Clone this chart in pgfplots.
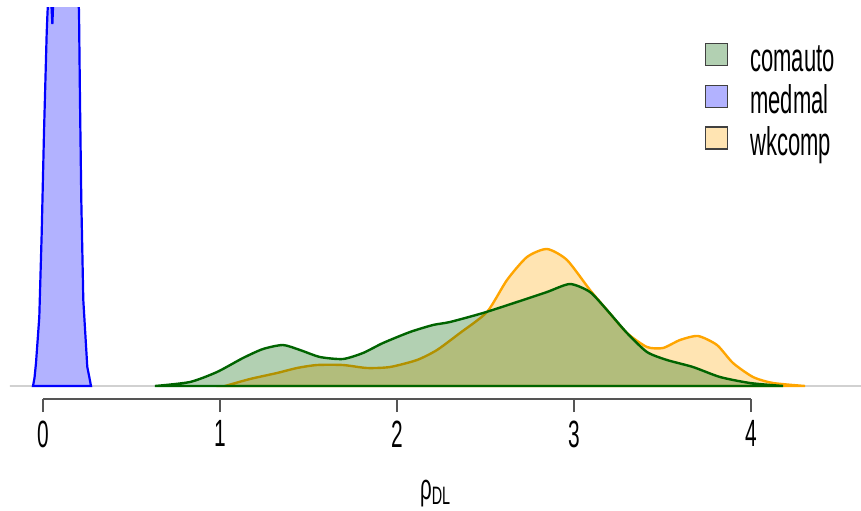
\documentclass[border=0pt]{standalone}
\usepackage{pgfplots}
\pgfplotsset{compat=1.18}
\usepackage{fontspec}
\setmainfont{Liberation Sans}
\definecolor{dkgreen}{HTML}{006400}
\definecolor{rorange}{HTML}{FFA500}
\definecolor{rblue}{HTML}{0000FF}
\definecolor{axgray}{HTML}{555555}
\begin{document}
\begin{tikzpicture}
\begin{axis}[name=ax, scale only axis, width=425.5pt, height=196pt,
  xmin=-0.1864, xmax=4.6215, ymin=-13, ymax=379,
  axis x line*=bottom, axis y line=none,
  x axis line style={draw=none,-},
  xtick={0,1,2,3,4},
  xticklabels={\scalebox{0.55}[1]{0},\scalebox{0.55}[1]{1},\scalebox{0.55}[1]{2},\scalebox{0.55}[1]{3},\scalebox{0.55}[1]{4}},
  tick align=outside, major tick length=6.5pt,
  tick style={axgray, line width=0.6pt},
  xticklabel style={font=\fontsize{19}{21}\selectfont, yshift=-0.7pt},
  xlabel={\scalebox{0.57}[1]{ρ\textsubscript{DL}}},
  xlabel style={at={(rel axis cs:0.5,0)}, anchor=base, yshift=-50pt, font=\fontsize{18}{20}\selectfont},
  clip mode=individual,
  legend image code/.code={\draw[#1, draw=black!75, line width=0.7pt] (0pt,-1pt) rectangle (11pt,10pt);},
  legend style={at={(axis cs:3.74,343)}, anchor=north west, draw=none, fill=none,
    inner sep=0pt, outer sep=0pt, row sep=3.5pt, column sep=11pt,
    font=\fontsize{20}{22}\selectfont,
    nodes={inner sep=0pt, text height=11pt, text depth=3pt}},
  legend cell align=left,
]
% baseline
\addplot[forget plot, draw=black!18, line width=0.6pt] coordinates {(-0.3,0) (4.8,0)};
% wkcomp
\addplot[forget plot, smooth, tension=0.4, draw=rorange, line width=1.2pt, fill=rorange, fill opacity=0.3] coordinates {
(1.0282,0)(1.1695,7)(1.322,13)(1.435,18)(1.548,21)(1.6949,21)(1.8305,18)(1.9605,19)(2.113,26)(2.226,36)(2.3559,53)(2.5085,74)(2.6215,106)(2.7345,129)(2.8475,137)(2.9605,126)(3.0904,96)(3.1864,76)(3.2994,53)(3.4124,39)(3.5028,38)(3.5989,46)(3.7006,50)(3.8079,41)(3.8983,23)(4.0113,9)(4.1243,3)(4.3051,0)} -- cycle;
% comauto
\addplot[forget plot, smooth, tension=0.4, draw=dkgreen, line width=1.2pt, fill=dkgreen, fill opacity=0.3] coordinates {
(0.6328,0)(0.8305,4)(0.9831,14)(1.1299,28)(1.2429,37)(1.3559,41)(1.452,36)(1.565,29)(1.6949,27)(1.8079,33)(1.9209,43)(2.0734,54)(2.2034,61)(2.2994,64)(2.4859,73)(2.678,84)(2.8475,94)(2.9774,102)(3.0904,94)(3.1864,76)(3.2994,53)(3.4124,34)(3.5254,26)(3.6723,19)(3.8249,9)(3.9944,3)(4.1808,0)} -- cycle;
% medmal
\addplot[forget plot, draw=rblue, line width=1.1pt, fill=rblue, fill opacity=0.3] coordinates {
(-0.0565,0)(-0.048,8)(-0.0395,23)(-0.0209,69)(-0.0073,153)(0.0056,253)(0.0209,353)(0.0254,373)(0.0311,392)(0.045,390)(0.053,362)(0.058,385)(0.07,420)(0.113,470)(0.1525,440)(0.1864,410)(0.2034,376)(0.209,286)(0.2164,186)(0.2277,86)(0.2503,19)(0.2627,8)(0.2712,0)} -- cycle;
% axis line
\draw[axgray, line width=0.6pt] (axis cs:0,-13) -- (axis cs:4,-13);
% legend
\addlegendimage{fill=dkgreen, fill opacity=0.3}
\addlegendentry{\scalebox{0.55}[1]{comauto}}
\addlegendimage{fill=rblue, fill opacity=0.3}
\addlegendentry{\scalebox{0.55}[1]{medmal}}
\addlegendimage{fill=rorange, fill opacity=0.3}
\addlegendentry{\scalebox{0.55}[1]{wkcomp}}
\end{axis}
\pgfresetboundingbox
\path (ax.south west) ++(-5pt,-55.5pt) rectangle ([yshift=3.5pt]ax.north east);
\end{tikzpicture}
\end{document}
